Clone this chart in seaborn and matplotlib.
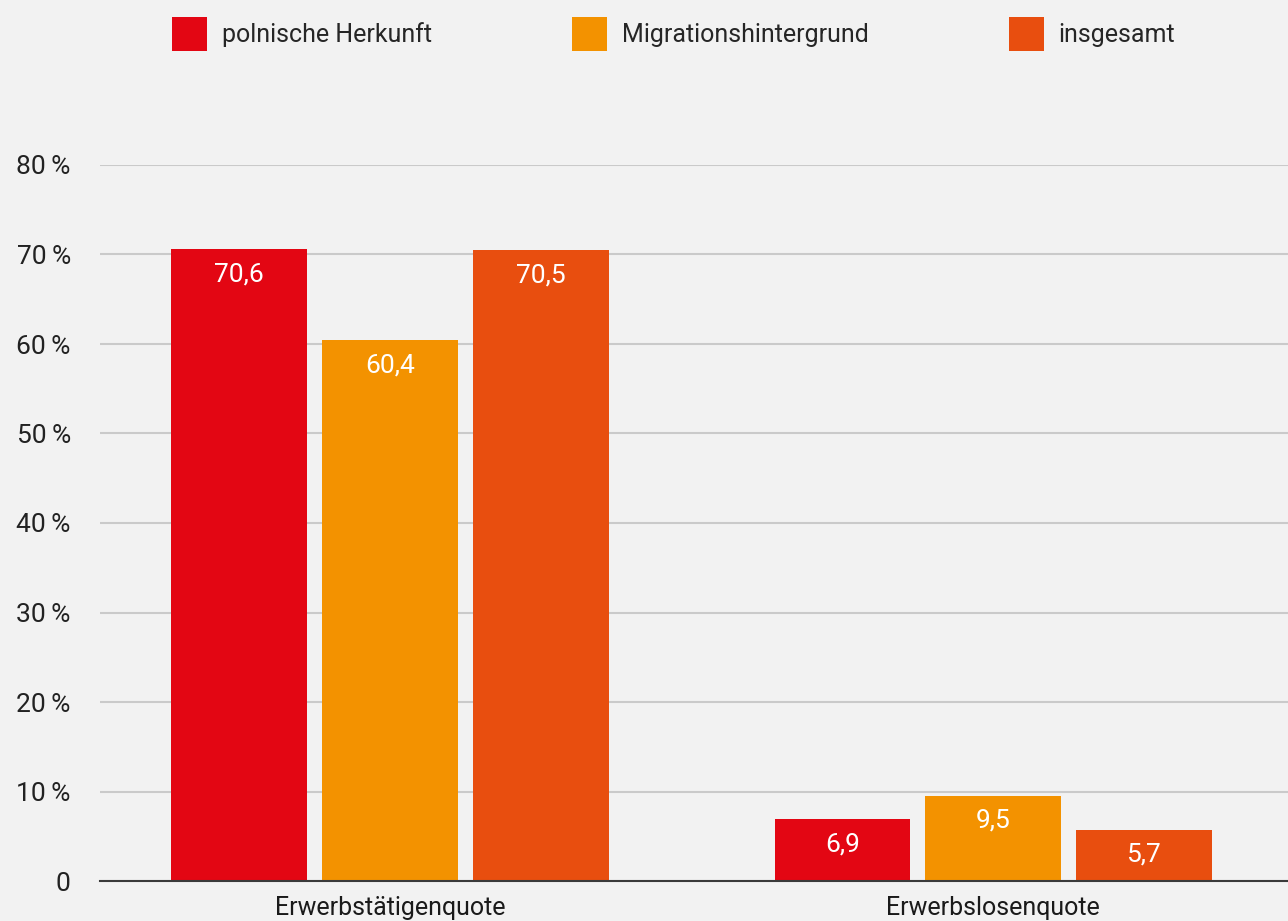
import matplotlib
matplotlib.use("Agg")
import matplotlib.pyplot as plt
from matplotlib.ticker import FuncFormatter
import seaborn as sns
import pandas as pd

categories = ["Erwerbstätigenquote", "Erwerbslosenquote"]
groups = ["polnische Herkunft", "Migrationshintergrund", "insgesamt"]
polnisch = [70.6, 6.9]
migration = [60.4, 9.5]
insgesamt = [70.5, 5.7]
colors = ["#e30613", "#f39200", "#e84e0f"]
yticks = [0, 10, 20, 30, 40, 50, 60, 70, 80]

rows = []
for g, vals in zip(groups, [polnisch, migration, insgesamt]):
    for c, v in zip(categories, vals):
        rows.append({"Kategorie": c, "Gruppe": g, "Wert": v})
df = pd.DataFrame(rows)

sns.set_theme(style="white")
plt.rcParams["font.family"] = ["Roboto", "DejaVu Sans"]
bg = "#f2f2f2"

fig = plt.figure(figsize=(12.88, 9.21), dpi=100, facecolor=bg)
ax = fig.add_axes([100 / 1288, 40 / 921, 1 - 100 / 1288, (881 - 165) / 921])
ax.set_facecolor(bg)

sns.barplot(data=df, x="Kategorie", y="Wert", hue="Gruppe", order=categories,
            hue_order=groups, palette=colors, width=0.75, gap=0.1,
            saturation=1, ax=ax, zorder=3, linewidth=0)

ax.set_ylim(0, 80)
ax.set_xlim(-0.481, 1.489)
ax.set_yticks(yticks)
ax.yaxis.set_major_formatter(FuncFormatter(lambda v, p: "0" if v == 0 else f"{int(v)}\u2009%"))
ax.grid(axis="y", color="#cacaca", linewidth=1.5, zorder=0)
ax.grid(axis="x", visible=False)
for s in ["top", "right", "left"]:
    ax.spines[s].set_visible(False)
ax.spines["bottom"].set_color("#3a3a3a")
ax.spines["bottom"].set_linewidth(1.5)
ax.spines["bottom"].set_zorder(4)
ax.tick_params(axis="y", length=0, pad=21, labelsize=19, labelcolor="#222222")
ax.tick_params(axis="x", length=0, pad=11, labelsize=18, labelcolor="#1a1a1a")
ax.set_xlabel("")
ax.set_ylabel("")

for cont in ax.containers:
    for b in cont:
        lab = f"{b.get_height():.1f}".replace(".", ",")
        ax.annotate(lab, (b.get_x() + b.get_width() / 2, b.get_height()),
                    xytext=(0, -18), textcoords="offset points",
                    ha="center", va="center", color="white", fontsize=19,
                    zorder=5)

sns.move_legend(ax, "upper left", bbox_to_anchor=(172 / 1288, 1 - 17 / 921),
                bbox_transform=fig.transFigure, ncol=3, frameon=False,
                title=None, fontsize=18, handlelength=1.4, handleheight=1.7,
                handletextpad=0.6, columnspacing=5.6, borderpad=0,
                borderaxespad=0)

fig.savefig("out.png", dpi=100, facecolor=bg)
